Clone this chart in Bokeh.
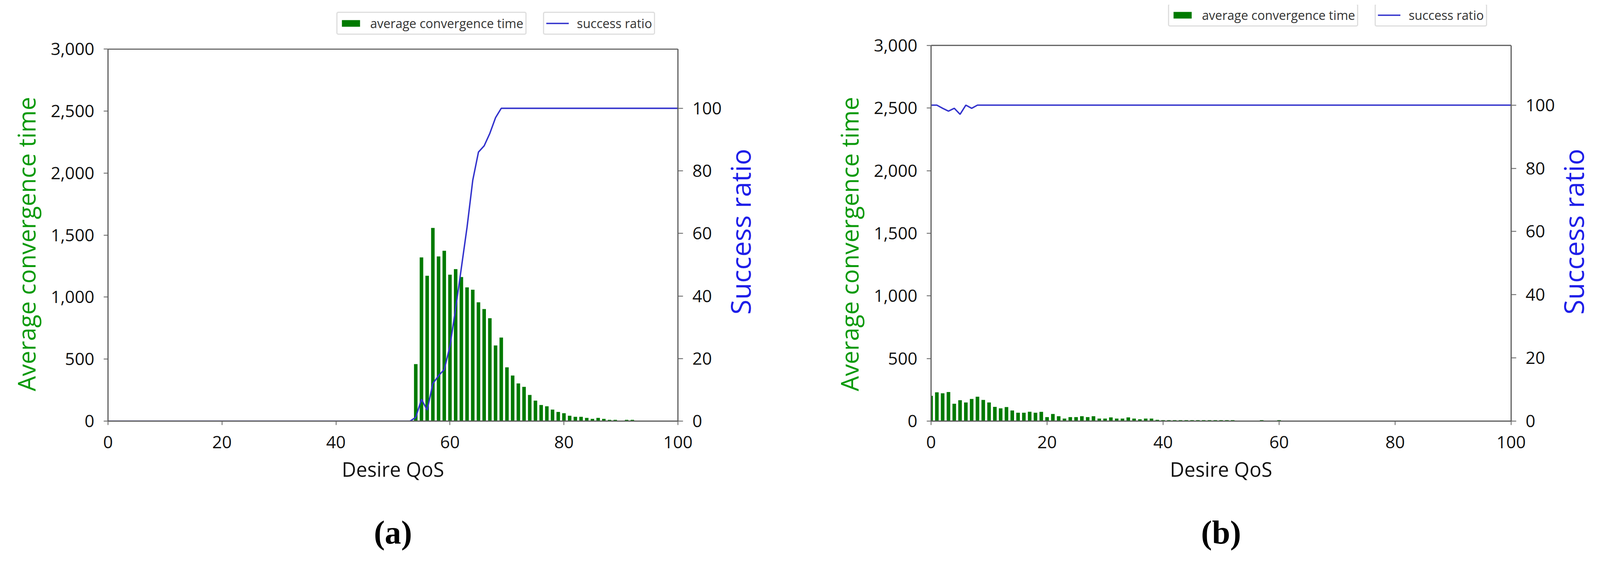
import math
from bokeh.plotting import figure
from bokeh.models import (Range1d, LinearAxis, FixedTicker, NumeralTickFormatter,
                          Legend, LegendItem, Span, Title)
from bokeh.layouts import row
from bokeh.embed import file_html
from bokeh.resources import INLINE

# ---------------- data ----------------
# panel (a)
a_bar_qos = [54, 55, 56, 57, 58, 59, 60, 61, 62, 63, 64, 65, 66, 67, 68, 69, 70, 71, 72, 73,
             74, 75, 76, 77, 78, 79, 80, 81, 82, 83, 84, 85, 86, 87, 88, 89, 91, 92]
a_conv_time = [460, 1320, 1172, 1558, 1328, 1374, 1181, 1226, 1162, 1079, 1060, 958, 904, 830,
               610, 674, 434, 368, 304, 276, 211, 165, 130, 120, 93, 74, 64, 43, 35, 35, 26,
               18, 26, 18, 10, 10, 10, 10]
a_line_qos = [0, 53, 54, 55, 56, 57, 58, 59, 60, 61, 62, 63, 64, 65, 66, 67, 68, 69, 100]
a_success = [0, 0, 1.2, 7, 3.5, 12, 14.5, 16.5, 24, 36, 49, 62, 77, 86, 88, 92, 97, 100, 100]

# panel (b)
b_bar_qos = [0, 1, 2, 3, 4, 5, 6, 7, 8, 9, 10, 11, 12, 13, 14, 15, 16, 17, 18, 19, 20, 21, 22,
             23, 24, 25, 26, 27, 28, 29, 30, 31, 32, 33, 34, 35, 36, 37, 38, 39, 40, 41, 42,
             43, 44, 45, 46, 47, 48, 49, 50, 51, 52, 57, 60]
b_conv_time = [202, 230, 222, 232, 139, 167, 149, 177, 195, 169, 149, 114, 102, 112, 85, 67, 67,
               75, 67, 74, 32, 57, 39, 20, 32, 32, 39, 32, 39, 20, 20, 30, 20, 20, 30, 20, 15,
               20, 20, 10, 8, 8, 8, 8, 8, 8, 8, 8, 8, 8, 8, 8, 8, 8, 8]
b_line_qos = [0, 1, 2, 3, 4, 5, 6, 7, 8, 100]
b_success = [100, 100, 99, 98.1, 99, 97.1, 100, 99, 100, 100]

left_ticks = [0, 500, 1000, 1500, 2000, 2500, 3000]
right_ticks = [0, 20, 40, 60, 80, 100]
x_ticks = [0, 20, 40, 60, 80, 100]
LEFT_MAX = 3000
RIGHT_MAX = 118.9

labels = dict(x="Desire QoS", y="Average convergence time", y2="Success ratio",
              bars="average convergence time", line="success ratio")

GREEN_BAR = "#007a00"
LINE_BLUE = "#3232cc"
GREEN_TXT = "#0a9a0a"
BLUE_TXT = "#1e1ee8"
AX = "#5c5c5c"
FONT = "Open Sans"
NB = "\u00a0"

# page is photographed at ~1.028x: layout values are given in photo pixels and converted
S = 0.9728


def cv(v):
    return v * S + 4


def px(v):
    return "%.1fpx" % (v * S)


def style_axis(ax, tick_out):
    ax.axis_line_color = AX
    ax.axis_line_width = 2.9
    ax.major_tick_line_color = AX
    ax.major_tick_line_width = 2
    ax.major_tick_in = 0
    ax.major_tick_out = round(tick_out * S)
    ax.minor_tick_line_color = None
    ax.major_label_text_font = FONT
    ax.major_label_text_font_size = px(45)
    ax.major_label_text_color = "#111111"
    ax.axis_label_text_font = FONT
    ax.axis_label_text_font_style = "normal"


def make_panel(canvas_x0, canvas_w, frame_l, frame_r, top_px, bottom_px,
               bar_x, bar_top, line_x, line_y, leg_x1, leg_x2, leg_bottom, tag, tag_dx):
    fl, fr = cv(frame_l), cv(frame_r)
    t3000, fb = cv(top_px), cv(bottom_px)
    frame_top = 20
    fh = fb - frame_top
    fw = fr - fl
    y_end = LEFT_MAX * fh / (fb - t3000)
    height = 1515
    mbl = round(fl - canvas_x0)
    p = figure(width=canvas_w, height=height, output_backend="svg", toolbar_location=None,
               x_range=Range1d(0, 100), y_range=Range1d(0, y_end),
               min_border_left=mbl, min_border_top=frame_top - 8,
               min_border_right=round(canvas_w - mbl - fw),
               min_border_bottom=round(height - (frame_top - 8) - fh))
    p.extra_y_ranges = {"ratio": Range1d(0, RIGHT_MAX * y_end / LEFT_MAX)}
    p.xgrid.visible = False
    p.ygrid.visible = False
    p.outline_line_color = None
    p.background_fill_color = "white"
    p.border_fill_color = "white"

    bars = p.vbar(x=bar_x, top=bar_top, bottom=0, width=0.62,
                  fill_color=GREEN_BAR, line_color=None)
    ln = p.line(line_x, line_y, line_color=LINE_BLUE, line_width=3.6, y_range_name="ratio")
    p.add_layout(Span(location=LEFT_MAX, dimension="width", line_color=AX, line_width=2.9))

    xa = p.xaxis[0]
    style_axis(xa, 10)
    xa.ticker = FixedTicker(ticks=x_ticks)
    xa.axis_label = labels["x"]
    xa.axis_label_text_font_size = px(52)
    xa.axis_label_text_color = "#111111"
    xa.major_label_standoff = 28
    xa.axis_label_standoff = 16

    ya = p.yaxis[0]
    style_axis(ya, 11)
    ya.bounds = (0, LEFT_MAX)
    ya.ticker = FixedTicker(ticks=left_ticks)
    ya.formatter = NumeralTickFormatter(format="0,0")
    ya.axis_label = labels["y"] + NB * 10
    ya.axis_label_text_font_size = px(63)
    ya.axis_label_text_color = GREEN_TXT
    ya.major_label_standoff = 24
    ya.axis_label_standoff = 18

    ra = LinearAxis(y_range_name="ratio", ticker=FixedTicker(ticks=right_ticks),
                    axis_label=NB * 15 + labels["y2"], bounds=(0, RIGHT_MAX))
    style_axis(ra, 13)
    ra.axis_label_text_font_size = px(72)
    ra.axis_label_text_color = BLUE_TXT
    ra.major_label_standoff = 24
    ra.axis_label_standoff = 44
    ra.axis_label_align = "start"
    ra.axis_label_orientation = math.pi / 2
    p.add_layout(ra, "right")

    common = dict(label_text_font=FONT, label_text_font_size=px(33),
                  label_text_color="#333333", border_line_color="#bdbdbd",
                  border_line_width=3, background_fill_color="white",
                  background_fill_alpha=1.0, padding=5, margin=0, spacing=0,
                  glyph_width=58, glyph_height=21, label_standoff=21)
    if "border_radius" in Legend.properties():
        common["border_radius"] = 5
    yb = fb - cv(leg_bottom)
    l1 = Legend(items=[LegendItem(label=labels["bars"], renderers=[bars])],
                location=(cv(leg_x1) - fl, yb), **common)
    l2 = Legend(items=[LegendItem(label=labels["line"], renderers=[ln])],
                location=(cv(leg_x2) - fl, yb), **common)
    p.add_layout(l1)
    p.add_layout(l2)

    t = Title(text="(" + tag + ")", align="center", offset=tag_dx,
              text_font="Liberation Serif", text_font_size=px(86),
              text_font_style="bold", text_color="black", standoff=152)
    p.add_layout(t, "below")
    return p


W_A = 1993
pa = make_panel(8, W_A, 288, 1792, 133, 1112, a_bar_qos, a_conv_time, a_line_qos, a_success,
                889, 1433, 95, "a", -6)
pb = make_panel(8 + W_A, 2133, 2454, 3985, 124, 1121, b_bar_qos, b_conv_time, b_line_qos,
                b_success, 3078, 3622, 83, "b", -28)

layout = row(pa, pb)
open("out.html", "w").write(file_html(layout, INLINE))
